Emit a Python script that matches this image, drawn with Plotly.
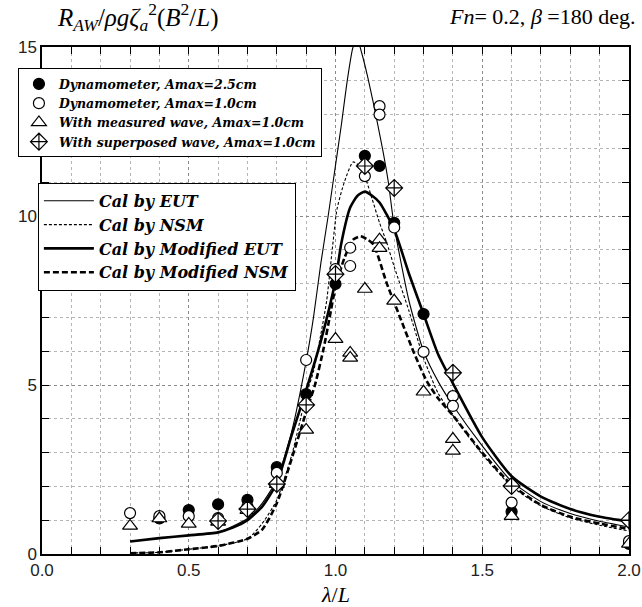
import plotly.graph_objects as go

# ---------------- data ----------------
dyn25_x = [0.4, 0.5, 0.6, 0.7, 0.8, 0.9, 1.0, 1.1, 1.15, 1.2, 1.3, 1.6, 2.0]
dyn25_y = [1.05, 1.30, 1.47, 1.60, 2.57, 4.73, 7.99, 11.78, 11.48, 9.80, 7.10, 1.25, 0.30]

dyn10_x = [0.3, 0.4, 0.5, 0.6, 0.7, 0.8, 0.9, 1.0, 1.05, 1.05, 1.1, 1.15, 1.15, 1.2, 1.3, 1.4, 1.4, 1.6, 2.0]
dyn10_y = [1.21, 1.12, 1.12, 1.06, 1.40, 2.40, 5.74, 8.43, 9.06, 8.52, 11.18, 13.25, 13.0, 9.66, 5.98, 4.67, 4.38, 1.52, 0.38]

meas_x = [0.3, 0.4, 0.5, 0.6, 0.7, 0.8, 0.9, 1.0, 1.05, 1.05, 1.1, 1.15, 1.15, 1.2, 1.3, 1.4, 1.4, 1.6, 2.0]
meas_y = [0.83, 1.05, 0.89, 0.95, 1.30, 2.07, 3.67, 6.36, 5.95, 5.80, 7.84, 9.30, 9.05, 7.49, 4.80, 3.40, 3.05, 1.12, 0.30]

sup_x = [0.6, 0.7, 0.8, 0.9, 1.0, 1.1, 1.2, 1.4, 1.6, 2.0]
sup_y = [0.98, 1.33, 2.07, 4.41, 8.28, 11.48, 10.83, 5.36, 2.01, 1.00]

eut_x = [0.3, 0.4, 0.5, 0.6, 0.7, 0.75, 0.8, 0.85, 0.9, 0.925, 0.95, 0.975, 1.0, 1.02, 1.04, 1.06, 1.075, 1.09,
         1.11, 1.13, 1.16, 1.18, 1.2, 1.25, 1.3, 1.35, 1.4, 1.5, 1.6, 1.7, 1.8, 1.9, 2.0]
eut_y = [0.37, 0.47, 0.55, 0.64, 1.05, 1.5, 2.2, 3.6, 5.7, 7.0, 8.6, 10.0, 11.5, 12.7, 14.0, 15.0, 15.2, 14.8,
         14.1, 13.3, 12.0, 11.0, 9.7, 7.5, 6.0, 5.1, 4.4, 3.2, 2.15, 1.55, 1.2, 0.97, 0.8]

nsm_x = [0.3, 0.4, 0.5, 0.6, 0.7, 0.75, 0.8, 0.85, 0.9, 0.925, 0.95, 0.97, 0.99, 1.005, 1.03, 1.06, 1.085,
         1.105, 1.125, 1.15, 1.175, 1.2, 1.25, 1.3, 1.35, 1.4, 1.5, 1.6, 1.7, 1.8, 1.9, 2.0]
nsm_y = [0.03, 0.05, 0.14, 0.24, 0.45, 0.9, 1.6, 2.9, 4.7, 5.4, 6.5, 7.5, 9.1, 10.2, 11.0, 11.6, 11.45,
         11.05, 10.5, 9.8, 9.2, 8.5, 7.2, 5.8, 4.75, 4.1, 2.95, 2.0, 1.42, 1.07, 0.85, 0.68]

meut_x = [0.3, 0.4, 0.5, 0.6, 0.65, 0.7, 0.75, 0.8, 0.85, 0.9, 0.95, 1.0, 1.02, 1.05, 1.075, 1.1, 1.125,
          1.15, 1.2, 1.25, 1.3, 1.35, 1.4, 1.5, 1.6, 1.7, 1.8, 1.9, 2.0]
meut_y = [0.37, 0.47, 0.55, 0.64, 0.78, 1.0, 1.4, 2.1, 3.5, 4.85, 6.3, 8.1, 9.2, 10.25, 10.6, 10.72, 10.6,
          10.4, 9.6, 8.3, 7.1, 5.9, 5.05, 3.45, 2.3, 1.7, 1.33, 1.1, 0.96]

mnsm_x = [0.3, 0.4, 0.5, 0.6, 0.7, 0.75, 0.8, 0.85, 0.9, 0.93, 0.96, 0.98, 1.0, 1.03, 1.06, 1.085, 1.11,
          1.13, 1.175, 1.22, 1.265, 1.31, 1.35, 1.4, 1.5, 1.6, 1.7, 1.8, 1.9, 2.0]
mnsm_y = [0.02, 0.05, 0.14, 0.24, 0.45, 0.72, 1.5, 2.8, 4.2, 5.0, 6.1, 7.0, 7.9, 8.75, 9.3, 9.4, 9.3,
          9.15, 8.0, 7.0, 6.0, 5.13, 4.6, 4.1, 3.0, 2.05, 1.45, 1.1, 0.9, 0.74]

x_ticks = [0.0, 0.5, 1.0, 1.5, 2.0]
y_ticks = [0, 5, 10, 15]

# ---------------- figure ----------------
fig = go.Figure()

line_specs = [
    ("Cal by EUT", eut_x, eut_y, 1.1, "solid"),
    ("Cal by NSM", nsm_x, nsm_y, 1.1, "3px,2px"),
    ("Cal by Modified EUT", meut_x, meut_y, 2.6, "solid"),
    ("Cal by Modified NSM", mnsm_x, mnsm_y, 2.6, "6px,3px"),
]
for name, xs, ys, w, dash in line_specs:
    fig.add_trace(go.Scatter(
        x=xs, y=ys, mode="lines", name=name, legend="legend2",
        line=dict(color="black", width=w, dash=dash, shape="spline", smoothing=0.6),
    ))

marker_specs = [
    ("Dynamometer, Amax=2.5cm", dyn25_x, dyn25_y, "circle", 11, "black"),
    ("Dynamometer, Amax=1.0cm", dyn10_x, dyn10_y, "circle", 11, "white"),
    ("With measured wave, Amax=1.0cm", meas_x, meas_y, "triangle-up", 13, "white"),
    ("With superposed wave, Amax=1.0cm", sup_x, sup_y, "diamond-cross", 13, "white"),
]
for name, xs, ys, sym, sz, fill in marker_specs:
    fig.add_trace(go.Scatter(
        x=xs, y=ys, mode="markers", name=name, legend="legend",
        marker=dict(symbol=sym, size=sz, color=fill, line=dict(color="black", width=1.2)),
    ))

tickfont = dict(family="Liberation Sans, Arial, sans-serif", size=17, color="#222")
serif = "Liberation Serif, Times New Roman, serif"
legserif = "DejaVu Serif, Liberation Serif, serif"

common = dict(
    ticks="inside", ticklen=7, tickcolor="black", tickfont=tickfont,
    showline=True, linecolor="black", linewidth=1.5, mirror="allticks",
    showgrid=True, gridcolor="#8a8a8a", gridwidth=1, griddash="dot",
    zeroline=False,
)
fig.update_xaxes(
    range=[0, 2.0], tickvals=x_ticks, ticktext=[f"{v:.1f}" for v in x_ticks],
    minor=dict(dtick=0.1, ticks="inside", ticklen=7, tickcolor="black",
               showgrid=True, gridcolor="#b4b4b4", gridwidth=1, griddash="dot"),
    **common,
)
fig.update_yaxes(
    range=[0, 15], tickvals=y_ticks, ticktext=[str(v) for v in y_ticks],
    minor=dict(dtick=1, ticks="inside", ticklen=7, tickcolor="black",
               showgrid=True, gridcolor="#b4b4b4", gridwidth=1, griddash="dot"),
    **common,
)

fig.update_layout(
    width=642, height=607,
    margin=dict(l=42, r=13, t=47, b=53, autoexpand=False),
    plot_bgcolor="white", paper_bgcolor="white",
    showlegend=True,
    legend=dict(
        x=-0.041, y=0.958, xanchor="left", yanchor="top",
        bgcolor="white", bordercolor="black", borderwidth=1,
        font=dict(family=legserif, size=12.5, color="black", style="italic", weight="bold"),
        itemsizing="trace",
    ),
    legend2=dict(
        x=-0.007, y=0.732, xanchor="left", yanchor="top",
        bgcolor="white", bordercolor="black", borderwidth=1,
        font=dict(family=legserif, size=16, color="black", style="italic", weight="bold"),
        itemwidth=50,
    ),
    annotations=[
        dict(text="<i>R</i><sub><i>AW</i></sub>/<i>ρgζ</i><sub><i>a</i></sub><sup>2</sup>(<i>B</i><sup>2</sup>/<i>L</i>)",
             xref="paper", yref="paper", x=0.022, y=1.06, xanchor="left", yanchor="middle",
             showarrow=False, font=dict(family=serif, size=25, color="black")),
        dict(text="<i>Fn</i>= 0.2, <i>β</i> =180 deg.",
             xref="paper", yref="paper", x=1.015, y=1.06, xanchor="right", yanchor="middle",
             showarrow=False, font=dict(family=serif, size=22, color="black")),
        dict(text="<i>λ</i>/<i>L</i>",
             xref="x", yref="paper", x=1.0, y=-0.08, xanchor="center", yanchor="middle",
             showarrow=False, font=dict(family=serif, size=22, color="black")),
    ],
)

fig.write_html("out.html", config={"displayModeBar": False},
               post_script="document.body.style.margin='0px';")
